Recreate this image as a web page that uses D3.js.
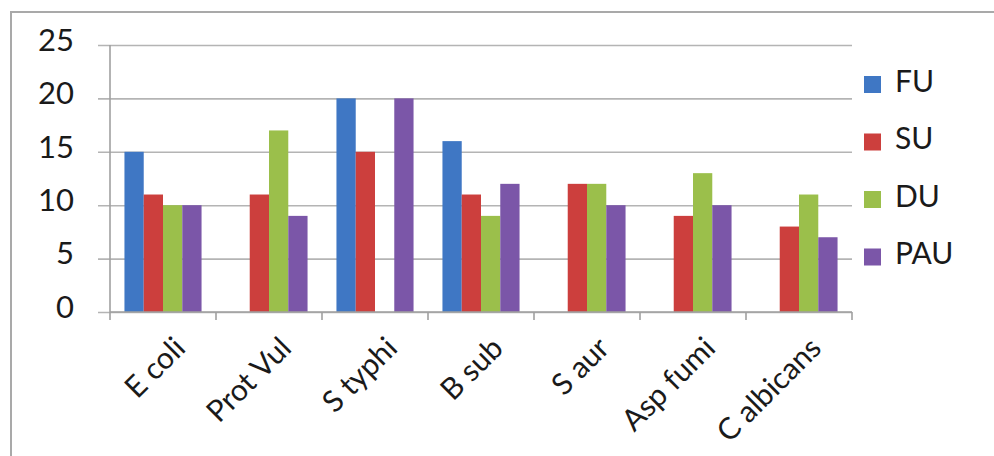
<!DOCTYPE html>
<html>
<head>
<meta charset="utf-8">
<script src="https://cdn.jsdelivr.net/npm/d3@7"></script>
<style>
  html, body { margin: 0; padding: 0; background: #ffffff; }
  svg { display: block; }
  text { font-family: Lato, "Open Sans", sans-serif; fill: #1a1a1a; }
</style>
</head>
<body>
<svg id="chart" width="994" height="456"></svg>
<script>
// Organisms tested
const categories = ["E coli", "Prot Vul", "S typhi", "B sub", "S aur", "Asp fumi", "C albicans"];
// Series names and their values per organism
const seriesNames = ["FU", "SU", "DU", "PAU"];
const FU  = [15, 0, 20, 16, 0, 0, 0];
const SU  = [11, 11, 15, 11, 12, 9, 8];
const DU  = [10, 17, 0, 9, 12, 13, 11];
const PAU = [10, 9, 20, 12, 10, 10, 7];
const yTicks = [0, 5, 10, 15, 20, 25];
const colors = ["#3f77c4", "#cc3f3d", "#9bbf4b", "#7b56a8"];

const seriesValues = [FU, SU, DU, PAU];
const rows = categories.map((c, i) => {
  const r = { category: c };
  seriesNames.forEach((s, j) => { r[s] = seriesValues[j][i]; });
  return r;
});

const svg = d3.select("#chart");

// Outer chart frame (top and left edges visible)
svg.append("path")
  .attr("d", "M11,456 L11,12 L994,12")
  .attr("fill", "none")
  .attr("stroke", "#a9a9a9")
  .attr("stroke-width", 2);

const plot = { left: 110, right: 852, top: 45, bottom: 312 };

const x0 = d3.scaleBand()
  .domain(categories)
  .range([plot.left, plot.right])
  .paddingInner(0)
  .paddingOuter(0);

// gap width of 150% of a bar on either side of each group
const barW = x0.bandwidth() / (seriesNames.length + 1.5);
const x1 = d3.scaleBand()
  .domain(seriesNames)
  .range([0, barW * seriesNames.length]);

const y = d3.scaleLinear()
  .domain([0, 25])
  .range([plot.bottom, plot.top]);

// Horizontal gridlines with left tick marks
const yAxis = d3.axisLeft(y)
  .tickValues(yTicks)
  .tickSize(-(plot.right - plot.left))
  .tickFormat("");
const gy = svg.append("g")
  .attr("transform", `translate(${plot.left},0)`)
  .call(yAxis);
gy.select(".domain").remove();
gy.selectAll(".tick line")
  .attr("x1", -12)
  .attr("stroke", "#b4b4b4")
  .attr("stroke-width", 1.6);

// Y tick labels
svg.append("g").selectAll("text")
  .data(yTicks)
  .join("text")
  .attr("x", 74)
  .attr("y", d => y(d) - 2)
  .attr("text-anchor", "end")
  .attr("dominant-baseline", "middle")
  .style("font-size", "31px")
  .text(d => d);

// Y axis line
svg.append("line")
  .attr("x1", plot.left).attr("x2", plot.left)
  .attr("y1", plot.top).attr("y2", plot.bottom)
  .attr("stroke", "#a0a0a0")
  .attr("stroke-width", 1.6);

// Bars
const groups = svg.append("g").selectAll("g")
  .data(rows)
  .join("g")
  .attr("transform", d => `translate(${x0(d.category) + barW * 0.75},0)`);

groups.selectAll("rect")
  .data(d => seriesNames.map((s, j) => ({ key: s, value: d[s], color: colors[j] })).filter(e => e.value > 0))
  .join("rect")
  .attr("x", d => x1(d.key))
  .attr("y", d => y(d.value))
  .attr("width", x1.bandwidth())
  .attr("height", d => y(0) - y(d.value))
  .attr("fill", d => d.color);

// X axis with category boundary ticks
const xAxisLine = svg.append("g");
xAxisLine.append("line")
  .attr("x1", plot.left).attr("x2", plot.right)
  .attr("y1", plot.bottom).attr("y2", plot.bottom)
  .attr("stroke", "#a0a0a0")
  .attr("stroke-width", 1.6);
const boundaries = categories.map(c => x0(c)).concat([plot.right]);
xAxisLine.selectAll(".bt")
  .data(boundaries)
  .join("line")
  .attr("class", "bt")
  .attr("x1", d => d).attr("x2", d => d)
  .attr("y1", plot.bottom).attr("y2", plot.bottom + 8)
  .attr("stroke", "#a0a0a0")
  .attr("stroke-width", 1.6);

// Rotated category labels
svg.append("g").selectAll("text")
  .data(categories)
  .join("text")
  .attr("transform", d => `translate(${x0(d) + x0.bandwidth() / 2 + 24},${plot.bottom + 38}) rotate(-45)`)
  .attr("text-anchor", "end")
  .style("font-size", "30px")
  .text(d => d);

// Legend
const legend = svg.append("g").selectAll("g")
  .data(seriesNames)
  .join("g")
  .attr("transform", (d, i) => `translate(864,${84 + i * 57.5})`);
legend.append("rect")
  .attr("x", 0).attr("y", -8)
  .attr("width", 17).attr("height", 17)
  .attr("fill", (d, i) => colors[i]);
legend.append("text")
  .attr("x", 31).attr("y", 0)
  .attr("dominant-baseline", "middle")
  .style("font-size", "30px")
  .text(d => d);
</script>
</body>
</html>
